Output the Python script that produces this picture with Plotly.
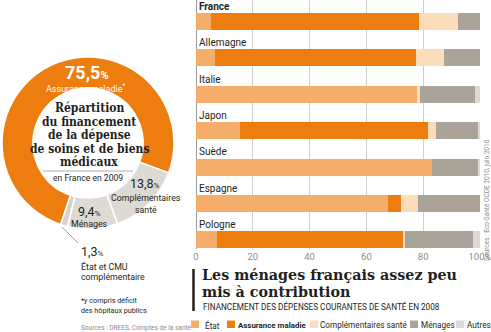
import plotly.graph_objects as go

# ---- Bar chart data: health spending funding by country, 2008 (%) ----
countries = ["France", "Allemagne", "Italie", "Japon", "Suède", "Espagne", "Pologne"]
etat = [5.2, 6.8, 77.9, 15.5, 83.0, 67.7, 7.3]
assurance_maladie = [73.2, 70.8, 0.0, 66.3, 0.0, 4.6, 65.7]
complementaires = [13.7, 9.8, 1.0, 2.7, 0.0, 6.0, 0.5]
menages = [7.9, 12.6, 19.3, 14.9, 16.5, 21.7, 24.0]
autres = [0.0, 0.0, 1.8, 0.6, 0.5, 0.0, 2.5]
tick_vals = [0, 20, 40, 60, 80, 100]
tick_text = ["0", "20", "40", "60", "80", "100%"]

# ---- Donut data: France 2009 ----
donut_labels = ["Assurance maladie", "Complémentaires santé", "Ménages", "État et CMU complémentaire"]
donut_values = [75.5, 13.8, 9.4, 1.3]

series_names = ["État", "Assurance maladie", "Complémentaires santé", "Ménages", "Autres"]
series_colors = ["#F5AD6B", "#EE7D0F", "#FCDDBA", "#AAA397", "#DDDAD4"]

W, H = 491, 332
NARROW = "Roboto, Liberation Sans, sans-serif"
SERIF = "DejaVu Serif Condensed, DejaVu Serif, serif"
SLAB = "DejaVu Serif, serif"
DARK = "#231F20"
GREY_TXT = "#8C8C8C"


def px(x, y):
    """Pixel position -> paper coordinates."""
    return x / W, 1 - y / H


fig = go.Figure()

# Stacked horizontal bars
ypos = list(range(len(countries)))
for name, vals, col in zip(series_names,
                           [etat, assurance_maladie, complementaires, menages, autres],
                           series_colors):
    fig.add_trace(go.Bar(
        x=vals, y=ypos, orientation="h", name=name,
        marker=dict(color=col, line=dict(width=0)),
        width=0.47, showlegend=False, hoverinfo="x+name",
    ))

# Country names above each bar
for i, c in enumerate(countries):
    label = f"<b>{c}</b>" if c == "France" else c
    fig.add_annotation(x=0, y=i - 0.42, xref="x", yref="y", text=label,
                       showarrow=False, xanchor="left", yanchor="middle", xshift=1,
                       font=dict(family=NARROW, size=10, color=DARK))

# Donut
fig.add_trace(go.Pie(
    labels=donut_labels, values=donut_values, hole=0.64, sort=False,
    direction="clockwise", rotation=-161.5,
    marker=dict(colors=["#EE7D0F", "#DDDAD3", "#DDDAD3", "#D6D3CC"],
                line=dict(color="white", width=1.5)),
    textinfo="none", hoverinfo="label+percent", showlegend=False,
    domain=dict(x=[2 / W, 174 / W], y=[1 - 229 / H, 1 - 57 / H]),
))

fig.update_layout(
    width=W, height=H,
    margin=dict(l=0, r=0, t=0, b=0, autoexpand=False),
    paper_bgcolor="white", plot_bgcolor="white",
    barmode="stack", bargap=0,
    xaxis=dict(domain=[196 / W, 480 / W], range=[0, 100],
               tickvals=tick_vals, ticktext=tick_text, ticks="",
               ticklabeloverflow="allow", automargin=False,
               showgrid=True, gridcolor="#CFCFCF", gridwidth=1,
               zeroline=True, zerolinecolor="#9A9A9A", zerolinewidth=1,
               tickfont=dict(family=NARROW, size=9.5, color=GREY_TXT),
               fixedrange=True),
    yaxis=dict(domain=[1 - 249 / H, 1], range=[6.25, -0.59], automargin=False,
               showticklabels=False, showgrid=False, zeroline=False,
               fixedrange=True),
    showlegend=False,
)

ann = []


def text(x, y, s, size, color=DARK, family=NARROW, xanchor="center", yanchor="middle", angle=0):
    xp, yp = px(x, y)
    ann.append(dict(x=xp, y=yp, xref="paper", yref="paper", text=s, showarrow=False,
                    xanchor=xanchor, yanchor=yanchor, textangle=angle, borderpad=0,
                    font=dict(family=family, size=size, color=color)))


# Donut labels
text(87, 72, "<b>75,5</b><span style='font-size:11px'><b>%</b></span>", 18, color="white")
text(86, 88, "Assurance maladie<sup>*</sup>", 9, color="white")
for k, line in enumerate(["Répartition", "du financement", "de la dépense",
                          "de soins et de biens", "médicaux"]):
    text(89, 108 + k * 13.5, f"<b>{line}</b>", 12, family=SERIF)
text(88, 178, "en France en 2009", 8.6)
text(145, 183, "13,8<span style='font-size:8px'>%</span>", 12.5)
text(146, 198, "Complémentaires", 8.8)
text(146, 210, "santé", 8.8)
text(89, 211, "9,4<span style='font-size:8px'>%</span>", 12.5)
text(89, 224, "Ménages", 8.8)
text(80, 251, "1,3<span style='font-size:8px'>%</span>", 12.5, xanchor="left")
text(80, 266, "État et CMU", 8.8, xanchor="left")
text(80, 277, "complémentaire", 8.8, xanchor="left")
text(80, 300, "*y compris déficit", 7.2, xanchor="left")
text(80, 310, "des hôpitaux publics", 7.2, xanchor="left")
text(80, 328, "Sources : DREES, Comptes de la santé", 6.5, color=GREY_TXT, xanchor="left")

# Bar chart title block
text(201, 275, "<b>Les ménages français assez peu</b>", 14.3, family=SLAB, xanchor="left")
text(201, 292, "<b>mis à contribution</b>", 14.3, family=SLAB, xanchor="left")
text(202, 306, "FINANCEMENT DES DÉPENSES COURANTES DE SANTÉ EN 2008", 8.2, xanchor="left")
text(487, 200, "Sources : Eco-Santé OCDE 2010, juin 2010", 6.5, color=GREY_TXT, angle=-90)

# Legend
legend_pos = [(191, 204), (227, 237), (310, 319), (410, 420), (456, 466)]
shapes = []
for (sx, tx), name, col in zip(legend_pos, series_names, series_colors):
    x0, y0 = px(sx, 328)
    x1, y1 = px(sx + 8, 320.5)
    shapes.append(dict(type="rect", xref="paper", yref="paper", x0=x0, y0=y0, x1=x1, y1=y1,
                       fillcolor=col, line=dict(width=0)))
    if name == "Assurance maladie":
        text(tx, 325, f"<b>{name}</b>", 7.9, xanchor="left")
    else:
        text(tx, 325, name, 8.2, xanchor="left")

# Decorations: title bar, separator inside donut, leader line for 1.3 %
for (x0, y0, x1, y1, col, w) in [(193.5, 269, 193.5, 311, DARK, 2.5),
                                 (43, 171, 133, 171, "#9A9A9A", 0.8),
                                 (62, 227, 78, 243, GREY_TXT, 0.8)]:
    a, b = px(x0, y0)
    c, d = px(x1, y1)
    shapes.append(dict(type="line", xref="paper", yref="paper", x0=a, y0=b, x1=c, y1=d,
                       line=dict(color=col, width=w)))

fig.update_layout(annotations=fig.layout.annotations + tuple(ann), shapes=shapes)

fig.write_html("out.html")
